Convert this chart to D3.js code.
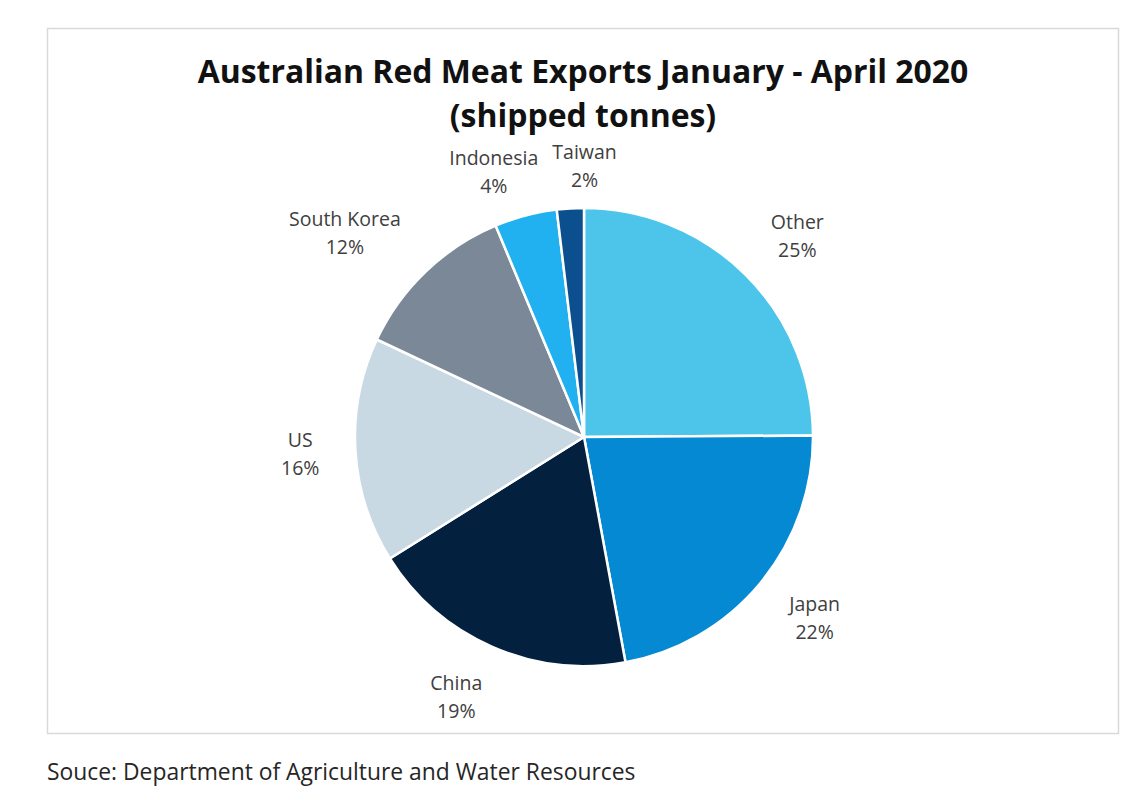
<!DOCTYPE html>
<html>
<head>
<meta charset="utf-8">
<script src="https://cdn.jsdelivr.net/npm/d3@7"></script>
<style>
  html, body { margin: 0; padding: 0; background: #ffffff; }
  svg { display: block; }
</style>
</head>
<body>
<svg id="chart" width="1144" height="805"></svg>
<script>
// ---- Data ----
const categories = ["Other", "Japan", "China", "US", "South Korea", "Indonesia", "Taiwan"];
const shares = [24.9, 22.2, 19.0, 15.9, 11.7, 4.4, 1.9];
const percentLabels = ["25%", "22%", "19%", "16%", "12%", "4%", "2%"];
const sliceColors = ["#4dc5ea", "#0589d2", "#03213f", "#c9d9e3", "#7a8897", "#22b1f0", "#0b4f8f"];
const titleLines = ["Australian Red Meat Exports January - April 2020", "(shipped tonnes)"];
const sourceText = "Souce: Department of Agriculture and Water Resources";

// ---- Layout ----
const svg = d3.select("#chart");
const cx = 584, cy = 437, R = 229;

// frame
svg.append("rect")
  .attr("x", 47.5).attr("y", 28.5)
  .attr("width", 1071).attr("height", 705)
  .attr("fill", "#ffffff")
  .attr("stroke", "#d9d9d9").attr("stroke-width", 1.5);

// title
const fitText = (sel, target) => {
  const w = sel.node().getComputedTextLength();
  const fs = parseFloat(sel.attr("font-size"));
  sel.attr("font-size", fs * target / w);
};
const t1 = svg.append("text")
  .attr("x", 583).attr("y", 83)
  .attr("text-anchor", "middle")
  .attr("font-family", "'Open Sans', sans-serif")
  .attr("font-weight", 700)
  .attr("font-size", 28)
  .attr("fill", "#111")
  .text(titleLines[0]);
fitText(t1, 771);
svg.append("text")
  .attr("x", 583).attr("y", 127)
  .attr("text-anchor", "middle")
  .attr("font-family", "'Open Sans', sans-serif")
  .attr("font-weight", 700)
  .attr("font-size", t1.attr("font-size"))
  .attr("fill", "#111")
  .text(titleLines[1]);

// pie
const data = categories.map((c, i) => ({ name: c, value: shares[i], label: percentLabels[i], color: sliceColors[i] }));
const pie = d3.pie().value(d => d.value).sort(null).startAngle(0).endAngle(2 * Math.PI);
const arcs = pie(data);
const arc = d3.arc().innerRadius(0).outerRadius(R);

const g = svg.append("g").attr("transform", `translate(${cx},${cy})`);
g.selectAll("path.slice")
  .data(arcs)
  .join("path")
  .attr("class", "slice")
  .attr("d", arc)
  .attr("fill", d => d.data.color)
  .attr("stroke", "#ffffff")
  .attr("stroke-width", 2.5)
  .attr("stroke-linejoin", "round");

// labels (two lines, block centred on a point outside the slice)
const labelRx = 265;
const fontSize = 19.5;
const lineGap = 28;
const lg = g.append("g")
  .attr("font-family", "'Open Sans', sans-serif")
  .attr("font-size", fontSize)
  .attr("fill", "#404040")
  .attr("text-anchor", "middle");

const placed = [];
arcs.forEach(a => {
  const mid = (a.startAngle + a.endAngle) / 2;
  const s = Math.sin(mid), c = Math.cos(mid);
  const labelRy = 284 - 13 * Math.pow(Math.max(0, c), 8);
  const t = lg.append("text");
  t.append("tspan").attr("x", 0).attr("dy", 0).text(a.data.name);
  t.append("tspan").attr("x", 0).attr("dy", lineGap).text(a.data.label);
  const bb = t.node().getBBox();
  const w = bb.width, h = bb.height;
  let x = s * labelRx + Math.sign(s) * (w / 2) * Math.min(1, 2 * Math.abs(s));
  const yc = -c * labelRy;
  // simple collision avoidance: push right past any already placed label it overlaps
  placed.forEach(p => {
    const overlapY = Math.abs(p.yc - yc) < (p.h + h) / 2;
    const overlapX = (x - w / 2) < p.x + p.w / 2 + 14 && (x + w / 2) > p.x - p.w / 2;
    if (overlapY && overlapX) x = p.x + p.w / 2 + 14 + w / 2;
  });
  placed.push({ x, yc, w, h });
  const y = yc - lineGap / 2 + fontSize * 0.36;
  t.attr("transform", `translate(${x},${y})`);
});

// source
const src = svg.append("text")
  .attr("x", 47).attr("y", 780)
  .attr("font-family", "'Open Sans', sans-serif")
  .attr("font-size", 18)
  .attr("fill", "#262626")
  .text(sourceText);
fitText(src, 589);
</script>
</body>
</html>
